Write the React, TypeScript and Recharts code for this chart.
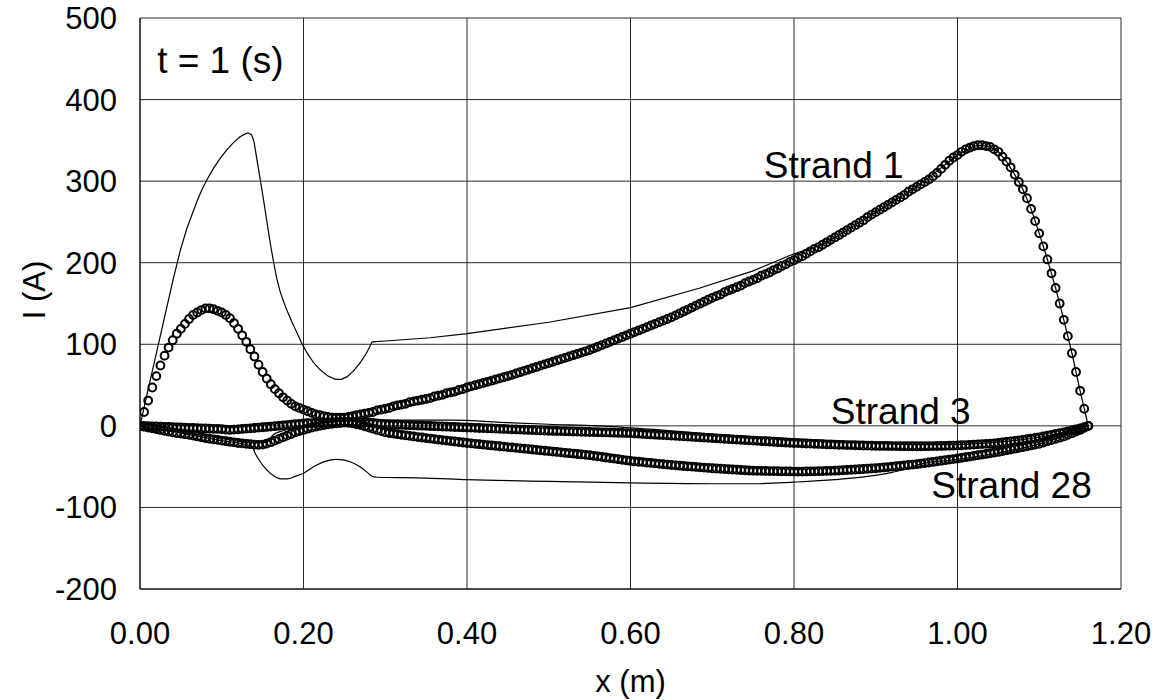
import React from 'react';
import { ComposedChart, Line, XAxis, YAxis, CartesianGrid, ReferenceDot } from 'recharts';

// Mesh step of the simulated (marker) series, in metres
const X_STEP = 0.005;

// Strand 1, markers (A), x = 0 .. 1.16 every 0.005 m
const STRAND1_MARK = [
  0, 17, 31, 47, 61, 74, 86, 96, 105, 113,
  119, 125, 131, 136, 139, 142, 144, 144, 143, 141,
  139, 136, 132, 126, 119, 111, 103, 94, 85, 75,
  66, 58, 51, 45, 40, 35, 31, 27, 24, 22,
  20, 18, 16, 14, 13, 12, 11, 10, 10, 10,
  10, 11, 12, 13, 14, 15, 16, 17, 19, 20,
  21, 22, 24, 25, 26, 27, 29, 30, 31, 32,
  33, 34, 36, 37, 38, 40, 41, 42, 44, 45,
  47, 48.4, 49.8, 51.2, 52.6, 54, 55.4, 56.8, 58.2, 59.6,
  61, 62.6, 64.2, 65.8, 67.4, 69, 70.6, 72.2, 73.8, 75.4,
  77, 78.6, 80.2, 81.8, 83.4, 85, 86.6, 88.2, 89.8, 91.4,
  93, 95, 97, 99, 101, 103, 105, 107, 109, 111,
  113, 115, 117, 119, 121, 123, 125, 127, 129, 131,
  133, 135.4, 137.8, 140.2, 142.6, 145, 147.4, 149.8, 152.2, 154.6,
  157, 159, 161, 164, 166, 168, 170, 172, 175, 177,
  179, 181, 184, 186, 188, 191, 193, 196, 198, 201,
  203, 206, 208, 211, 214, 217, 219, 222, 225, 228,
  231, 234, 237, 240, 243, 246, 249, 252, 256, 259,
  262, 265, 268, 271, 274, 277, 280, 283, 287, 290,
  293, 296, 299, 302, 306, 310, 315, 320, 325, 329,
  332, 336, 339, 341, 343, 344, 344, 343, 342, 339,
  336, 330, 324, 317, 308, 299, 290, 279, 266, 251,
  236, 220, 204, 187, 169, 150, 130, 110, 89, 66,
  43, 21, 0,
];

// Strand 3, markers (A)
const STRAND3_MARK = [
  0, -0.2, -0.4, -0.6, -0.8, -1, -1.2, -1.4, -1.6, -1.8,
  -2, -2.2, -2.4, -2.6, -2.8, -3, -3.2, -3.4, -3.6, -3.8,
  -4, -4.5, -5, -4.6, -4.2, -3.8, -3.4, -3, -2.6, -2.1,
  -1.7, -1.3, -0.9, -0.4, 0, 0.5, 1, 1.5, 2, 2.5,
  3, 3.2, 3.4, 3.6, 3.8, 4, 4.2, 4.4, 4.6, 4.8,
  5, 4.9, 4.7, 4.5, 4.3, 4.2, 4, 3.5, 3, 2.5,
  2, 1.8, 1.6, 1.4, 1.2, 1, 0.8, 0.6, 0.4, 0.2,
  0, -0.2, -0.4, -0.6, -0.8, -1, -1.2, -1.4, -1.6, -1.8,
  -2, -2.2, -2.4, -2.6, -2.8, -3, -3.2, -3.4, -3.6, -3.8,
  -4, -4.2, -4.4, -4.6, -4.8, -5, -5.2, -5.4, -5.6, -5.8,
  -6, -6.2, -6.3, -6.5, -6.6, -6.8, -6.9, -7.1, -7.2, -7.4,
  -7.5, -7.7, -7.8, -8, -8.1, -8.3, -8.4, -8.6, -8.7, -8.9,
  -9, -9.3, -9.6, -9.9, -10.2, -10.5, -10.8, -11.1, -11.4, -11.7,
  -12, -12.3, -12.6, -12.9, -13.2, -13.5, -13.8, -14.1, -14.4, -14.7,
  -15, -15.3, -15.6, -15.9, -16.2, -16.5, -16.8, -17.1, -17.4, -17.7,
  -18, -18.3, -18.6, -18.9, -19.2, -19.5, -19.8, -20.1, -20.4, -20.7,
  -21, -21.2, -21.4, -21.6, -21.8, -22, -22.2, -22.4, -22.6, -22.8,
  -23, -23.2, -23.3, -23.5, -23.6, -23.8, -23.9, -24.1, -24.2, -24.4,
  -24.5, -24.6, -24.6, -24.7, -24.8, -24.8, -24.9, -24.9, -25, -25,
  -25, -25, -24.9, -24.9, -24.8, -24.7, -24.6, -24.5, -24.3, -24.2,
  -24, -23.8, -23.5, -23.3, -23, -22.7, -22.4, -22.1, -21.7, -21.4,
  -21, -20.4, -19.8, -19.2, -18.5, -17.8, -17.1, -16.4, -15.6, -14.8,
  -14, -13, -12, -11, -10, -9, -8, -6.8, -5.5, -4.2,
  -3, -1.5, 0,
];

// Strand 28, markers (A)
const STRAND28_MARK = [
  0, -1, -2, -3, -4, -5, -6, -7, -8, -8.8,
  -9.5, -10.2, -11, -12, -13, -14, -15, -15.8, -16.5, -17.2,
  -18, -18.8, -19.5, -20.2, -21, -21.5, -22, -22.5, -23, -23.2,
  -23, -21.8, -20, -18, -16, -14, -12, -10, -8, -6.5,
  -5, -3.5, -2, -1, 0, 1, 2, 2.5, 3, 3.5,
  4, 3.7, 3, 2, 1, -0.5, -2, -3.5, -5, -6.5,
  -8, -8.8, -9.5, -10.2, -11, -11.7, -12.3, -13, -13.7, -14.3,
  -15, -15.6, -16.2, -16.8, -17.4, -18, -18.6, -19.2, -19.8, -20.4,
  -21, -21.5, -22, -22.5, -23, -23.5, -24, -24.5, -25, -25.5,
  -26, -26.5, -27, -27.5, -28, -28.5, -29, -29.5, -30, -30.5,
  -31, -31.5, -32, -32.5, -33, -33.5, -34, -34.5, -35, -35.5,
  -36, -36.7, -37.4, -38.1, -38.8, -39.5, -40.2, -40.9, -41.6, -42.3,
  -43, -43.5, -44, -44.5, -45, -45.5, -46, -46.5, -47, -47.5,
  -48, -48.4, -48.8, -49.2, -49.6, -50, -50.4, -50.8, -51.2, -51.6,
  -52, -52.3, -52.6, -52.9, -53.2, -53.5, -53.8, -54.1, -54.4, -54.7,
  -55, -55.1, -55.2, -55.3, -55.4, -55.5, -55.6, -55.7, -55.8, -55.9,
  -56, -56, -56, -55.9, -55.8, -55.7, -55.6, -55.5, -55.3, -55.2,
  -55, -54.7, -54.4, -54.1, -53.8, -53.5, -53.2, -52.9, -52.6, -52.3,
  -52, -51.5, -51, -50.5, -50, -49.5, -49, -48.5, -48, -47.5,
  -47, -46.3, -45.6, -44.9, -44.2, -43.5, -42.8, -42.1, -41.4, -40.7,
  -40, -39.2, -38.4, -37.6, -36.8, -36, -35.2, -34.4, -33.6, -32.8,
  -32, -31, -30, -29, -28, -27, -26, -25, -24, -23,
  -22, -20.5, -19, -17.5, -16, -14.5, -13, -11, -9, -7,
  -5, -2.5, 0,
];

// Solid-line curves (x in m, I in A)
const STRAND1_LINE_X = [
  0, 0.01, 0.02, 0.03, 0.04, 0.049, 0.057, 0.064, 0.07, 0.076, 0.082, 0.09, 0.098, 0.106, 0.114, 0.122, 0.127, 0.132,
  0.1365, 0.1395, 0.15, 0.159, 0.163, 0.167, 0.171, 0.175, 0.18, 0.186, 0.192, 0.198, 0.204, 0.212, 0.22, 0.23, 0.239, 0.246,
  0.253, 0.261, 0.269, 0.277, 0.284, 0.3, 0.355, 0.4, 0.5, 0.6, 0.685, 0.75, 0.8, 0.832, 0.85, 0.9, 0.95, 1.0, 1.02,
  1.03, 1.04, 1.05, 1.06, 1.07, 1.08, 1.09, 1.1, 1.11, 1.12, 1.13, 1.14, 1.15, 1.16,
];
const STRAND1_LINE_Y = [
  0, 45, 89, 133, 177, 214, 241, 260, 276, 290, 302, 316, 328, 338, 347, 354, 357, 359,
  357, 348, 284, 226, 203, 182, 166, 154, 141, 127, 114, 101, 90, 78, 69, 61, 57, 57,
  60, 67, 77, 89, 103, 104, 108, 113, 127, 145, 169, 190, 211, 221, 231, 262, 293, 332, 343,
  344, 342, 336, 324, 308, 290, 266, 236, 204, 169, 130, 89, 43, 0,
];

const STRAND3_LINE_X = [0, 0.05, 0.1, 0.14, 0.155, 0.163, 0.175, 0.19, 0.22, 0.25, 0.3, 0.38, 0.45, 0.5, 0.56, 0.65, 0.7, 0.8, 0.9, 0.95, 1.0, 1.05, 1.1, 1.13, 1.16];
const STRAND3_LINE_Y = [0, -8, -15, -21, -20, -11, -6, -3, 3, 6, 7, 7, 4, 2, 0, -6, -10, -16, -21, -23, -23, -20, -14, -8, 0];

const STRAND28_LINE_X = [0, 0.05, 0.1, 0.137, 0.141, 0.147, 0.155, 0.163, 0.172, 0.18, 0.19, 0.2, 0.216, 0.232, 0.24, 0.25, 0.257, 0.269, 0.278, 0.284, 0.29, 0.35, 0.4, 0.5, 0.6, 0.7, 0.75, 0.8, 0.85, 0.89, 0.92, 0.94, 0.95, 1.0, 1.05, 1.1, 1.134, 1.16];
const STRAND28_LINE_Y = [0, -9, -18, -25, -34, -44, -54, -61, -65, -65, -62, -58, -48, -42, -41, -42, -44, -50, -57, -62, -63, -64, -66, -68, -70, -71, -71, -69, -66, -62, -57, -52, -48, -41, -33, -22, -11, 0];

const X_TICKS = [0, 0.2, 0.4, 0.6, 0.8, 1.0, 1.2];
const Y_TICKS = [-200, -100, 0, 100, 200, 300, 400, 500];

const ANNOTATIONS = [
  { text: 't = 1 (s)', x: 0.021, y: 433 },
  { text: 'Strand 1', x: 0.763, y: 304 },
  { text: 'Strand 3', x: 0.845, y: 2 },
  { text: 'Strand 28', x: 0.968, y: -88 },
];

const FONT = '"Liberation Sans", Arial, Helvetica, sans-serif';

const gridPoints = (ys: number[]) => ys.map((y, i) => ({ x: Math.round(i * X_STEP * 1000) / 1000, y }));
const zipPoints = (xs: number[], ys: number[]) => xs.map((x, i) => ({ x, y: ys[i] }));

const markDot = { r: 3.9, fill: 'none', stroke: '#000', strokeWidth: 2 };

const XTitle = (props: any) => {
  const vb = props.viewBox || {};
  return (
    <text x={vb.x + vb.width / 2} y={692} textAnchor="middle" fontSize={31} fontFamily={FONT} fill="#000">
      x (m)
    </text>
  );
};

const YTitle = () => {
  const cx = 34;
  const cy = 290;
  return (
    <text x={cx} y={cy} dy="0.35em" textAnchor="middle" fontSize={31} fontFamily={FONT} fill="#000" transform={`rotate(-90, ${cx}, ${cy})`}>
      I (A)
    </text>
  );
};

export default function App() {
  return (
    <div style={{ position: 'absolute', left: 0, top: 0, width: 1157, height: 700, background: '#fff' }}>
      <ComposedChart width={1157} height={700} margin={{ top: 18, right: 36, bottom: 0, left: 0 }}>
        <CartesianGrid stroke="#2a2a2a" strokeWidth={1} />
        <XAxis
          type="number"
          dataKey="x"
          domain={[0, 1.2]}
          ticks={X_TICKS}
          tickFormatter={(v: number) => v.toFixed(2)}
          tick={{ fill: '#000', fontSize: 31, fontFamily: FONT }}
          tickLine={false}
          tickSize={0}
          tickMargin={33}
          axisLine={{ stroke: '#000' }}
          height={111}
          allowDataOverflow
          label={<XTitle />}
        />
        <YAxis
          type="number"
          dataKey="y"
          domain={[-200, 500]}
          ticks={Y_TICKS}
          width={140}
          tick={{ fill: '#000', fontSize: 31, fontFamily: FONT }}
          tickLine={false}
          tickSize={0}
          tickMargin={23}
          axisLine={{ stroke: '#000' }}
          allowDataOverflow
          label={<YTitle />}
        />
        <Line data={gridPoints(STRAND3_MARK)} dataKey="y" stroke="none" dot={markDot} activeDot={false} isAnimationActive={false} />
        <Line data={gridPoints(STRAND28_MARK)} dataKey="y" stroke="none" dot={markDot} activeDot={false} isAnimationActive={false} />
        <Line data={gridPoints(STRAND1_MARK)} dataKey="y" stroke="none" dot={markDot} activeDot={false} isAnimationActive={false} />
        <Line data={zipPoints(STRAND3_LINE_X, STRAND3_LINE_Y)} dataKey="y" type="monotone" stroke="#000" strokeWidth={1.2} dot={false} activeDot={false} isAnimationActive={false} />
        <Line data={zipPoints(STRAND28_LINE_X, STRAND28_LINE_Y)} dataKey="y" type="monotone" stroke="#000" strokeWidth={1.2} dot={false} activeDot={false} isAnimationActive={false} />
        <Line data={zipPoints(STRAND1_LINE_X, STRAND1_LINE_Y)} dataKey="y" type="linear" stroke="#000" strokeWidth={1.2} dot={false} activeDot={false} isAnimationActive={false} />
        {ANNOTATIONS.map((a) => (
          <ReferenceDot
            key={a.text}
            x={a.x}
            y={a.y}
            r={1}
            isFront
            shape={(p: any) => (
              <text x={p.cx} y={p.cy} fontSize={37} fontFamily={FONT} fill="#000">
                {a.text}
              </text>
            )}
          />
        ))}
      </ComposedChart>
    </div>
  );
}
